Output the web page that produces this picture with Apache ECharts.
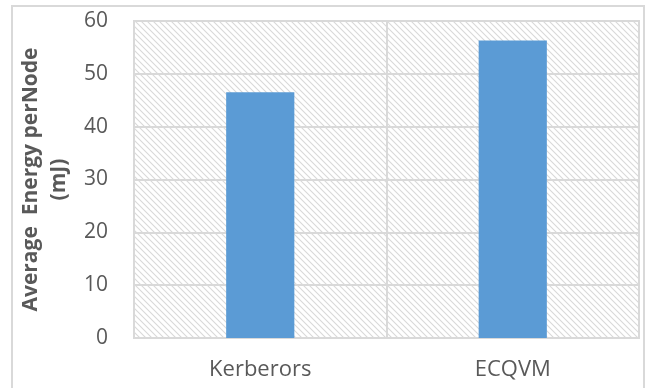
<!DOCTYPE html>
<html>
<head>
<meta charset="utf-8">
<script src="https://cdn.jsdelivr.net/npm/echarts@6/dist/echarts.min.js"></script>
<style>
html, body { margin: 0; padding: 0; background: #fff; }
#chart { width: 648px; height: 388px; }
</style>
</head>
<body>
<div id="chart"></div>
<script>
var categories = ['Kerberors', 'ECQVM'];
var energyValues = [46.5, 56.3];
var yTicks = { min: 0, max: 60, interval: 10 };
var yName = 'Average  Energy perNode\n(mJ)';

// hatch fill for the plot area (diagonal "\" lines)
function hatch(){
	var c = document.createElement('canvas');
	c.width = 6; c.height = 6;
	var ctx = c.getContext('2d');
	ctx.fillStyle = '#fff';
	ctx.fillRect(0, 0, 6, 6);
	ctx.strokeStyle = '#d9d9d9';
	ctx.lineWidth = 1.1;
	ctx.beginPath();
	ctx.moveTo(-1, -1); ctx.lineTo(7, 7);
	ctx.moveTo(-1, 5); ctx.lineTo(1, 7);
	ctx.moveTo(5, -1); ctx.lineTo(7, 1);
	ctx.stroke();
	return c;
}

var font = '"Open Sans", "Noto Sans", sans-serif';
var myChart = echarts.init(document.getElementById('chart'));
myChart.setOption({
	animation: false,
	graphic: [{
		type: 'rect',
		shape: { x: 12, y: 6, width: 632, height: 400 },
		style: { fill: 'none', stroke: '#d9d9d9', lineWidth: 2 },
		silent: true
	}],
	grid: {
		left: 134, right: 9, top: 21, bottom: 50,
		show: true,
		backgroundColor: { image: hatch(), repeat: 'repeat' },
		borderColor: '#d9d9d9',
		borderWidth: 2
	},
	xAxis: {
		type: 'category',
		data: categories,
		axisLine: { lineStyle: { color: '#d9d9d9', width: 2 } },
		axisTick: { show: false },
		splitLine: { show: true, lineStyle: { color: '#d9d9d9', width: 2 } },
		axisLabel: { color: '#595959', fontSize: 22, fontFamily: font, margin: 21 }
	},
	yAxis: {
		type: 'value',
		min: yTicks.min, max: yTicks.max, interval: yTicks.interval,
		name: yName,
		nameLocation: 'middle',
		nameGap: 60,
		nameTextStyle: { color: '#595959', fontSize: 21, fontWeight: 'bold', fontFamily: font, lineHeight: 28 },
		axisLine: { show: false },
		axisTick: { show: false },
		splitLine: { lineStyle: { color: '#d9d9d9', width: 2 } },
		axisLabel: { color: '#595959', fontSize: 21, fontFamily: font, margin: 26 }
	},
	series: [{
		type: 'bar',
		data: energyValues,
		barWidth: '27%',
		itemStyle: { color: '#5b9bd5' }
	}]
});
</script>
</body>
</html>
